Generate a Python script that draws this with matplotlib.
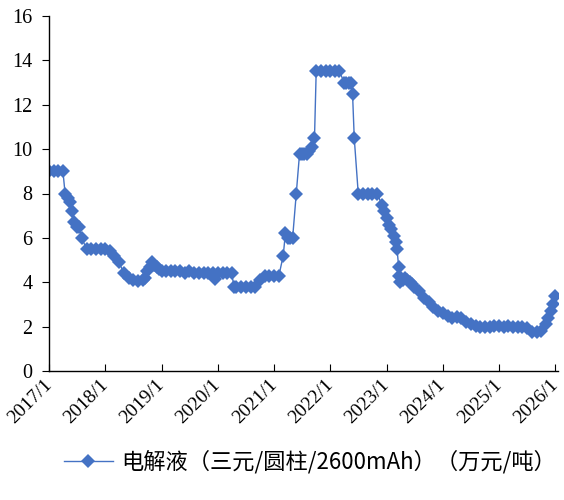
import pandas as pd
import matplotlib.pyplot as plt

# 电解液价格（三元/圆柱/2600mAh），万元/吨
dates = [
    "2017-01-01", "2017-02-01", "2017-03-01", "2017-04-01", "2017-04-15",
    "2017-05-01", "2017-05-15", "2017-06-01", "2017-06-15", "2017-07-01",
    "2017-07-15", "2017-08-01", "2017-09-01", "2017-10-01", "2017-11-01",
    "2017-12-01",
    "2018-01-01", "2018-02-01", "2018-03-01", "2018-04-01", "2018-05-01",
    "2018-06-01", "2018-07-01", "2018-08-01", "2018-09-01", "2018-09-15",
    "2018-10-01", "2018-10-15", "2018-11-01", "2018-11-15", "2018-12-01",
    "2018-12-15",
    "2019-01-01", "2019-02-01", "2019-03-01", "2019-04-01", "2019-05-01",
    "2019-06-01", "2019-07-01", "2019-08-01", "2019-09-01", "2019-10-01",
    "2019-11-01", "2019-12-01", "2019-12-15",
    "2020-01-01", "2020-02-01", "2020-03-01", "2020-04-01", "2020-04-15",
    "2020-05-01", "2020-06-01", "2020-07-01", "2020-08-01", "2020-09-01",
    "2020-10-01", "2020-11-01", "2020-12-01",
    "2021-01-01", "2021-02-01", "2021-03-01", "2021-03-15", "2021-04-01",
    "2021-04-15", "2021-05-01", "2021-05-25", "2021-06-15", "2021-07-01",
    "2021-07-15", "2021-08-01", "2021-08-15", "2021-09-01", "2021-09-20",
    "2021-10-01", "2021-11-01", "2021-12-01",
    "2022-01-01", "2022-02-01", "2022-03-01", "2022-04-01", "2022-04-15",
    "2022-05-01", "2022-05-15", "2022-05-25", "2022-06-05", "2022-07-01",
    "2022-08-01", "2022-09-01", "2022-10-01", "2022-11-01", "2022-12-01",
    "2022-12-15",
    "2023-01-01", "2023-01-15", "2023-02-01", "2023-02-15", "2023-03-01",
    "2023-03-10", "2023-03-20", "2023-03-25", "2023-04-01", "2023-04-15",
    "2023-05-01", "2023-05-15", "2023-06-01", "2023-06-15", "2023-07-01",
    "2023-08-01", "2023-09-01", "2023-10-01", "2023-11-01", "2023-12-01",
    "2024-01-01", "2024-02-01", "2024-03-01", "2024-04-01", "2024-05-01",
    "2024-06-01", "2024-07-01", "2024-08-01", "2024-09-01", "2024-10-01",
    "2024-11-01", "2024-12-01",
    "2025-01-01", "2025-02-01", "2025-03-01", "2025-04-01", "2025-05-01",
    "2025-06-01", "2025-07-01", "2025-08-01", "2025-09-01", "2025-10-01",
    "2025-11-01", "2025-11-15", "2025-12-01", "2025-12-15", "2026-01-01",
]
price = [
    9.0, 9.0, 9.0, 9.0, 8.0,
    7.8, 7.6, 7.2, 6.7, 6.5,
    6.5, 6.0, 5.5, 5.5, 5.5,
    5.5,
    5.5, 5.4, 5.2, 4.9, 4.4,
    4.2, 4.1, 4.05, 4.1, 4.2,
    4.5, 4.7, 4.9, 4.8, 4.7,
    4.6,
    4.5, 4.5, 4.5, 4.5, 4.5,
    4.4, 4.5, 4.4, 4.4, 4.4,
    4.4, 4.4, 4.15,
    4.4, 4.4, 4.4, 4.4, 3.8,
    3.8, 3.8, 3.8, 3.8, 3.8,
    4.1, 4.3, 4.3,
    4.3, 4.3, 5.2, 6.2, 6.0,
    6.0, 6.0, 8.0, 9.8, 9.8,
    9.8, 9.8, 9.9, 10.1, 10.5,
    13.5, 13.5, 13.5,
    13.5, 13.5, 13.5, 13.0, 13.0,
    13.0, 13.0, 12.5, 10.5, 8.0,
    8.0, 8.0, 8.0, 8.0, 7.5,
    7.2,
    6.9, 6.6, 6.4, 6.1, 5.8,
    5.5, 4.7, 4.3, 4.0, 4.1,
    4.2, 4.1, 4.0, 3.9, 3.8,
    3.6, 3.3, 3.1, 2.9, 2.7,
    2.6, 2.5, 2.4, 2.45, 2.4,
    2.2, 2.1, 2.05, 2.0, 2.0,
    2.0, 2.05,
    2.05, 2.0, 2.05, 2.0, 2.0,
    2.0, 1.95, 1.75, 1.75, 1.8,
    2.1, 2.4, 2.7, 3.0, 3.4,
]
tick_years = list(range(2017, 2027))
legend_label = "电解液（三元/圆柱/2600mAh）（万元/吨）"

x = pd.to_datetime(dates)
color = "#4472C4"

fig = plt.figure(figsize=(5.64, 5.0), dpi=100)
ax = fig.add_axes([0.087, 0.258, 0.903, 0.710])

ax.plot(x, price, color=color, linewidth=1.0, marker="D", markersize=7,
        markeredgewidth=0, label=legend_label)

ax.set_ylim(0, 16)
ax.set_yticks(range(0, 17, 2))
ax.set_xlim(pd.Timestamp("2017-01-01"), pd.Timestamp("2026-01-20"))
ticks = [pd.Timestamp(f"{y}-01-01") for y in tick_years]
ax.set_xticks(ticks)
ax.set_xticklabels([f"{y}/1" for y in tick_years], rotation=45, ha="right",
                   va="center", rotation_mode="anchor",
                   family="Liberation Serif", fontsize=14)
for lab in ax.get_yticklabels():
    lab.set_family("Liberation Serif")
    lab.set_fontsize(14.5)

ax.tick_params(axis="x", direction="in", length=5, pad=8)
ax.tick_params(axis="y", direction="out", length=5, pad=7)
for s in ["top", "right"]:
    ax.spines[s].set_visible(False)
for s in ["left", "bottom"]:
    ax.spines[s].set_color("black")
    ax.spines[s].set_linewidth(1.0)

fig.legend(loc="center", bbox_to_anchor=(310 / 564, 1 - 462 / 500),
           frameon=False, handlelength=2.2, handletextpad=0.4,
           prop={"family": ["Noto Sans CJK SC", "DejaVu Sans"], "size": 16})

fig.savefig("out.png", dpi=100)
